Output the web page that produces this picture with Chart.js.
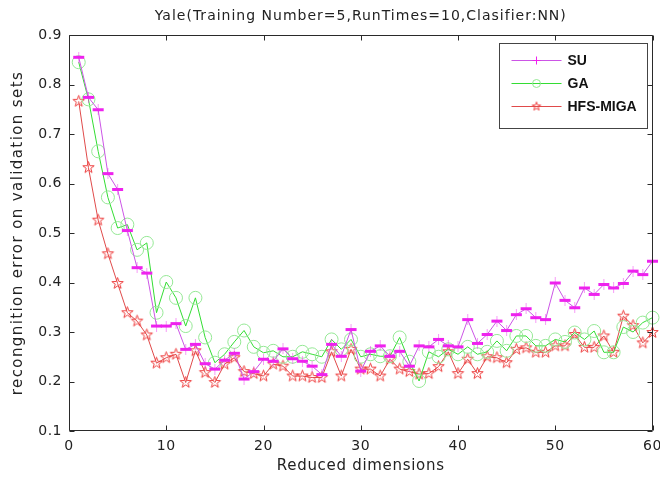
<!DOCTYPE html>
<html><head><meta charset="utf-8">
<script src="https://cdn.jsdelivr.net/npm/chart.js@4.4.0/dist/chart.umd.min.js"></script>
<style>html,body{margin:0;padding:0;background:#fff}#wrap{width:660px;height:479px;position:relative}</style>
</head><body><div id="wrap"><canvas id="c"></canvas></div>
<script>
const dims = [1,2,3,4,5,6,7,8,9,10,11,12,13,14,15,16,17,18,19,20,21,22,23,24,25,26,27,28,29,30,31,32,33,34,35,36,37,38,39,40,41,42,43,44,45,46,47,48,49,50,51,52,53,54,55,56,57,58,59,60];
const suErr = [0.855,0.774,0.749,0.620,0.588,0.505,0.430,0.419,0.312,0.312,0.317,0.265,0.275,0.236,0.225,0.243,0.257,0.205,0.220,0.245,0.241,0.266,0.246,0.241,0.231,0.214,0.275,0.251,0.305,0.221,0.261,0.272,0.251,0.261,0.231,0.272,0.270,0.285,0.272,0.270,0.325,0.277,0.295,0.322,0.303,0.335,0.347,0.329,0.325,0.399,0.364,0.349,0.389,0.376,0.396,0.389,0.398,0.423,0.416,0.443];
const gaErr = [0.845,0.770,0.665,0.572,0.510,0.517,0.466,0.480,0.339,0.401,0.369,0.312,0.369,0.289,0.238,0.255,0.280,0.303,0.270,0.258,0.262,0.250,0.250,0.260,0.255,0.250,0.285,0.265,0.285,0.250,0.255,0.251,0.251,0.289,0.240,0.201,0.260,0.250,0.265,0.255,0.270,0.255,0.260,0.282,0.262,0.292,0.292,0.272,0.272,0.285,0.280,0.299,0.285,0.302,0.259,0.259,0.310,0.300,0.319,0.329];
const hfsErr = [0.766,0.632,0.526,0.458,0.398,0.339,0.322,0.294,0.237,0.248,0.255,0.198,0.262,0.218,0.198,0.235,0.248,0.220,0.216,0.211,0.235,0.231,0.211,0.211,0.208,0.208,0.260,0.211,0.265,0.225,0.225,0.211,0.245,0.225,0.220,0.215,0.216,0.230,0.260,0.216,0.245,0.216,0.250,0.248,0.238,0.265,0.268,0.259,0.259,0.272,0.272,0.295,0.269,0.269,0.292,0.259,0.332,0.313,0.278,0.299];
const seriesNames = ['SU','GA','HFS-MIGA'];
const xTicks = [0,10,20,30,40,50,60];
const yTicks = [0.1,0.2,0.3,0.4,0.5,0.6,0.7,0.8,0.9];
const chartTitle = 'Yale(Training Number=5,RunTimes=10,Clasifier:NN)';
const xTitle = 'Reduced dimensions';
const yTitle = 'recongnition error on validation sets';

function makePlus(color){
  const c=document.createElement('canvas'); c.width=13; c.height=11;
  const g=c.getContext('2d');
  g.fillStyle=color; g.fillRect(1,4,11,3);
  g.globalAlpha=0.45; g.fillRect(6,0,1,11);
  return c;
}
function makeStar(color, r){
  const s=Math.ceil(2*r+3), c=document.createElement('canvas'); c.width=s; c.height=s;
  const g=c.getContext('2d'); const cx=s/2, cy=s/2;
  g.strokeStyle=color; g.lineWidth=1; g.beginPath();
  for(let k=0;k<10;k++){ const rad = k%2===0 ? r : r*0.4; const ang=-Math.PI/2 + k*Math.PI/5;
    const px=cx+rad*Math.cos(ang), py=cy+rad*Math.sin(ang); if(k===0) g.moveTo(px,py); else g.lineTo(px,py); }
  g.closePath(); g.stroke();
  return c;
}
const suMarker = makePlus('#ee22ee');
const hfsMarker = makeStar('#ee4040', 6);
const hfsLegendMarker = makeStar('#ee4040', 4.5);

function toXY(ys){ return dims.map((d,i)=>({x:d,y:ys[i]})); }

const framePlugin = {
  id:'frame',
  beforeDraw(chart){ try{ chart.ctx.letterSpacing='0.5px'; }catch(e){} },
  afterDraw(chart){
    const {ctx, chartArea:a, scales} = chart;
    const xs = scales.x, ys = scales.y;
    ctx.save();
    ctx.strokeStyle='#2a2a2a'; ctx.lineWidth=1;
    const L=Math.round(a.left)+0.5, R=Math.round(a.right)-0.5, T=Math.round(a.top)+0.5, B=Math.round(a.bottom)-0.5;
    ctx.beginPath();
    ctx.moveTo(L,T); ctx.lineTo(R,T); ctx.lineTo(R,B); ctx.lineTo(L,B); ctx.closePath();
    yTicks.forEach(v=>{ const p=Math.round(ys.getPixelForValue(v))+0.5; ctx.moveTo(L,p); ctx.lineTo(L+5,p); ctx.moveTo(R,p); ctx.lineTo(R-5,p); });
    xTicks.forEach(v=>{ const p=Math.round(xs.getPixelForValue(v))+0.5; ctx.moveTo(p,B); ctx.lineTo(p,B-5); ctx.moveTo(p,T); ctx.lineTo(p,T+5); });
    ctx.stroke();
    ctx.fillStyle='#222'; ctx.textBaseline='middle'; ctx.textAlign='center';
    // title
    ctx.font='14px "DejaVu Sans"'; try{ ctx.letterSpacing='1px'; }catch(e){}
    ctx.fillText(chartTitle, (a.left+a.right)/2, 16);
    // axis titles
    ctx.font='15px "DejaVu Sans"'; try{ ctx.letterSpacing='0.7px'; }catch(e){}
    ctx.fillText(xTitle, (a.left+a.right)/2, 466);
    ctx.save(); ctx.translate(18,(a.top+a.bottom)/2); ctx.rotate(-Math.PI/2);
    try{ ctx.letterSpacing='1.4px'; }catch(e){}
    ctx.fillText(yTitle, 0, 0); ctx.restore();
    // legend
    try{ ctx.letterSpacing='0px'; }catch(e){}
    const bx=a.right-154, by=a.top+8, bw=148, bh=85;
    ctx.fillStyle='#fff'; ctx.fillRect(bx,by,bw,bh);
    ctx.strokeStyle='#444'; ctx.strokeRect(Math.round(bx)+0.5, Math.round(by)+0.5, bw, bh);
    ctx.font='bold 14px "Liberation Sans"'; ctx.textAlign='left';
    chart.data.datasets.forEach((ds,i)=>{
      const ry = by+17+i*23;
      ctx.strokeStyle=ds.borderColor; ctx.lineWidth=1;
      ctx.beginPath(); ctx.moveTo(bx+13,ry+0.5); ctx.lineTo(bx+63,ry+0.5); ctx.stroke();
      ctx.strokeStyle=ds.pointBorderColor; ctx.fillStyle='rgba(0,0,0,0)';
      if(i===0) Chart.helpers.drawPoint(ctx,{pointStyle:'cross',radius:4,borderWidth:1,rotation:0},bx+38,ry+0.5);
      else if(i===1) Chart.helpers.drawPoint(ctx,{pointStyle:'circle',radius:4,borderWidth:1,rotation:0},bx+38,ry+0.5);
      else Chart.helpers.drawPoint(ctx,{pointStyle:hfsLegendMarker,radius:4,borderWidth:1,rotation:0},bx+38,ry+0.5);
      ctx.fillStyle='#111';
      ctx.fillText(ds.label, bx+69, ry+1);
    });
    ctx.restore();
  }
};

new Chart(document.getElementById('c'),{
  type:'line',
  data:{datasets:[
    {label:seriesNames[0], data:toXY(suErr), borderColor:'#cc55e6', borderWidth:1, pointStyle:suMarker, pointBorderColor:'#ee22ee', pointRadius:5, clip:false, tension:0},
    {label:seriesNames[1], data:toXY(gaErr), borderColor:'#33dd33', borderWidth:1, pointStyle:'circle', pointRadius:6.5, pointBorderColor:'#95e895', pointBackgroundColor:'rgba(0,0,0,0)', pointBorderWidth:1, clip:false, tension:0},
    {label:seriesNames[2], data:toXY(hfsErr), borderColor:'#e04a4a', borderWidth:1, pointStyle:hfsMarker, pointBorderColor:'#ee4040', pointRadius:6, clip:false, tension:0}
  ]},
  options:{
    responsive:true, maintainAspectRatio:false, animation:false,
    layout:{padding:{left:0,right:7,top:35,bottom:0}},
    plugins:{legend:{display:false}, title:{display:false}, tooltip:{enabled:false}},
    scales:{
      x:{type:'linear', min:0, max:60,
         grid:{display:false, drawTicks:false}, border:{display:false},
         afterBuildTicks(s){ s.ticks = xTicks.map(v=>({value:v})); },
         ticks:{color:'#222', font:{family:'DejaVu Sans', size:14}, padding:7, maxRotation:0, autoSkip:false},
         title:{display:false},
         afterFit(s){ s.height = 48; s.paddingLeft = 0; s.paddingRight = 0; }
      },
      y:{type:'linear', min:0.1, max:0.9,
         grid:{display:false, drawTicks:false}, border:{display:false},
         afterBuildTicks(s){ s.ticks = yTicks.map(v=>({value:v})); },
         ticks:{color:'#222', font:{family:'DejaVu Sans', size:14}, padding:7, callback:v=>Number(v).toFixed(1)},
         title:{display:false},
         afterFit(s){ s.width = 69; s.paddingTop = 0; s.paddingBottom = 0; }
      }
    }
  },
  plugins:[framePlugin]
});
</script></body></html>
